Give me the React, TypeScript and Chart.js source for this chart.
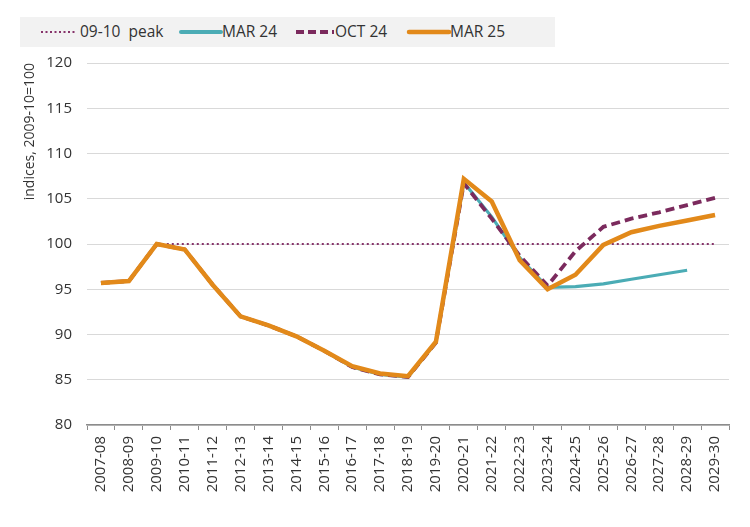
import React, { useEffect, useRef } from "react";
import { Chart, registerables } from "chart.js";

Chart.register(...registerables);

const categories = [
  "2007-08", "2008-09", "2009-10", "2010-11", "2011-12", "2012-13", "2013-14", "2014-15",
  "2015-16", "2016-17", "2017-18", "2018-19", "2019-20", "2020-21", "2021-22", "2022-23",
  "2023-24", "2024-25", "2025-26", "2026-27", "2027-28", "2028-29", "2029-30",
];

const peak09_10 = [null, null, 100, 100, 100, 100, 100, 100, 100, 100, 100, 100, 100, 100, 100, 100, 100, 100, 100, 100, 100, 100, 100];

const mar24 = [95.7, 95.9, 100, 99.4, 95.5, 92.0, 91.0, 89.8, 88.2, 86.4, 85.6, 85.3, 89.1, 106.8, 103.0, 98.5, 95.2, 95.3, 95.6, 96.1, 96.6, 97.1, null];

const oct24 = [95.7, 95.9, 100, 99.4, 95.5, 92.0, 91.0, 89.8, 88.2, 86.4, 85.6, 85.3, 89.1, 106.7, 102.8, 98.7, 95.4, 99.2, 101.9, 102.8, 103.5, 104.3, 105.1];

const mar25 = [95.7, 95.9, 100, 99.4, 95.5, 92.0, 91.0, 89.8, 88.2, 86.5, 85.7, 85.4, 89.2, 107.2, 104.7, 98.2, 95.0, 96.6, 99.9, 101.3, 102.0, 102.6, 103.2];

const yTicks = [80, 85, 90, 95, 100, 105, 110, 115, 120];

const COLORS = {
  peak: "#86336a",
  mar24: "#4bacb5",
  oct24: "#7b2a5d",
  mar25: "#e2891a",
};

const FONT = "'Open Sans', 'Noto Sans', sans-serif";
const TEXT = "#333333";

export default function App() {
  const ref = useRef<HTMLCanvasElement | null>(null);

  useEffect(() => {
    document.body.style.margin = "0";
    if (!ref.current) return;
    const chart = new Chart(ref.current, {
      type: "line",
      data: {
        labels: categories,
        datasets: [
          {
            label: "09-10  peak",
            data: peak09_10,
            borderColor: COLORS.peak,
            borderWidth: 2,
            borderDash: [2, 3],
            pointRadius: 0,
            order: 4,
          },
          {
            label: "MAR 24",
            data: mar24,
            borderColor: COLORS.mar24,
            borderWidth: 3.2,
            pointRadius: 0,
            order: 3,
          },
          {
            label: "OCT 24",
            data: oct24,
            borderColor: COLORS.oct24,
            borderWidth: 3.8,
            borderDash: [9, 5],
            pointRadius: 0,
            order: 2,
          },
          {
            label: "MAR 25",
            data: mar25,
            borderColor: COLORS.mar25,
            borderWidth: 4.5,
            pointRadius: 0,
            order: 1,
          },
        ],
      },
      options: {
        animation: false,
        responsive: false,
        maintainAspectRatio: false,
        layout: { padding: { top: 63, right: 21, bottom: 0, left: 22 } },
        plugins: {
          legend: { display: false },
          tooltip: { enabled: false },
        },
        elements: { line: { tension: 0, borderJoinStyle: "miter", borderCapStyle: "butt" } },
        scales: {
          x: {
            type: "category",
            offset: true,
            grid: {
              offset: true,
              drawOnChartArea: false,
              drawTicks: true,
              tickLength: 5,
              color: "#8c8c8c",
              lineWidth: 1,
            },
            border: { display: true, color: "#8c8c8c", width: 1.5 },
            ticks: {
              autoSkip: false,
              maxRotation: 90,
              minRotation: 90,
              color: TEXT,
              padding: 6,
              font: { family: FONT, size: 15 },
            },
            afterFit: (s: any) => {
              s.height = 102;
            },
          },
          y: {
            min: 80,
            max: 120,
            afterBuildTicks: (s: any) => {
              s.ticks = yTicks.map((v) => ({ value: v }));
            },
            grid: {
              color: "#d9d9d9",
              lineWidth: 1,
              drawTicks: false,
            },
            border: { display: false },
            ticks: {
              color: TEXT,
              padding: 15,
              font: { family: FONT, size: 15 },
            },
            title: {
              display: true,
              text: "indices, 2009-10=100",
              align: "end",
              color: TEXT,
              font: { family: FONT, size: 14 },
              padding: { top: 0, bottom: 0 },
            },
            afterFit: (s: any) => {
              s.width = 65;
            },
          },
        },
      },
    });
    return () => chart.destroy();
  }, []);

  const legendText: React.CSSProperties = {
    position: "absolute",
    top: 4,
    fontFamily: FONT,
    fontSize: 15.5,
    color: TEXT,
    whiteSpace: "pre",
    lineHeight: "20px",
  };

  return (
    <div style={{ position: "relative", width: 750, height: 527, background: "#fff" }}>
      <canvas ref={ref} width={750} height={527} style={{ position: "absolute", left: 0, top: 0 }} />
      <div
        style={{
          position: "absolute",
          left: 20,
          top: 17,
          width: 535,
          height: 30,
          background: "#f2f2f2",
        }}
      >
        <svg width={535} height={30} style={{ position: "absolute", left: 0, top: 0 }}>
          <line x1={21} y1={15} x2={56} y2={15} stroke={COLORS.peak} strokeWidth={2} strokeDasharray="2 2.5" />
          <line x1={161} y1={15} x2={201} y2={15} stroke={COLORS.mar24} strokeWidth={4} strokeLinecap="round" />
          <line x1={276} y1={15} x2={314} y2={15} stroke={COLORS.oct24} strokeWidth={4} strokeDasharray="8 4" />
          <line x1={389} y1={15} x2={429} y2={15} stroke={COLORS.mar25} strokeWidth={4.5} strokeLinecap="round" />
        </svg>
        <span style={{ ...legendText, left: 60 }}>09-10  peak</span>
        <span style={{ ...legendText, left: 202 }}>MAR 24</span>
        <span style={{ ...legendText, left: 315 }}>OCT 24</span>
        <span style={{ ...legendText, left: 430 }}>MAR 25</span>
      </div>
    </div>
  );
}
